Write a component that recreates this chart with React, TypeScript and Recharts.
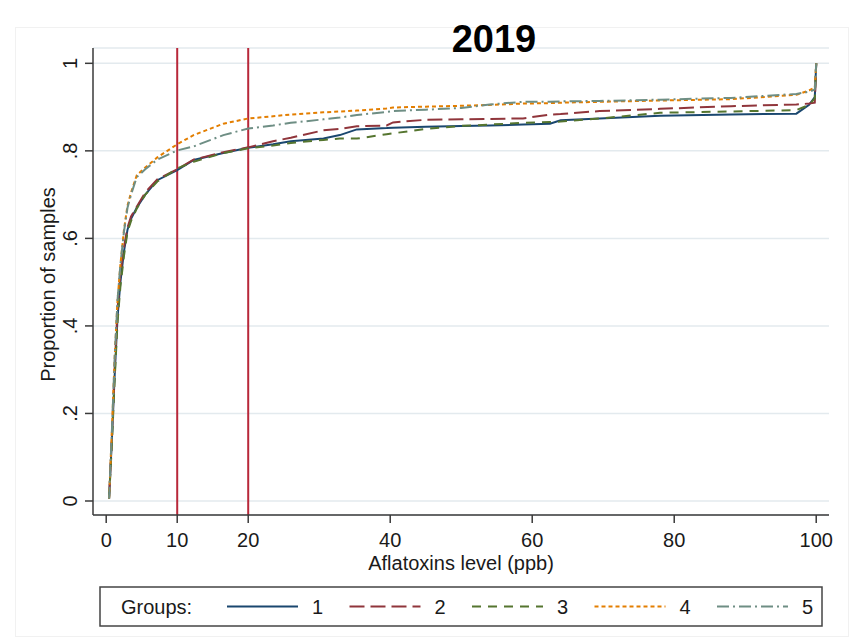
import React from 'react';
import { LineChart, Line, XAxis, YAxis, CartesianGrid, ReferenceLine } from 'recharts';

// Aflatoxin level (ppb) at which each cumulative proportion was read
const AFLATOXIN_LEVELS = [0.4, 0.8, 1.2, 1.6, 2.0, 2.5, 3.0, 3.5, 4.3, 5.5, 7.2, 10, 12.3, 16.5, 20, 23.5, 26, 30.6, 32.9, 35.3, 39.5, 40.4, 45, 50, 54, 58.7, 62.5, 64, 69.5, 78, 88, 97.2, 99, 99.8, 100];

// Cumulative proportion of samples per group
const GROUP_1 = [0.005, 0.14, 0.29, 0.42, 0.5, 0.57, 0.62, 0.645, 0.67, 0.7, 0.733, 0.756, 0.779, 0.795, 0.807, 0.815, 0.822, 0.828, 0.836, 0.849, 0.852, 0.853, 0.855, 0.857, 0.858, 0.86, 0.862, 0.87, 0.874, 0.88, 0.883, 0.885, 0.905, 0.923, 1];
const GROUP_2 = [0.005, 0.15, 0.31, 0.44, 0.52, 0.58, 0.625, 0.65, 0.672, 0.705, 0.735, 0.758, 0.78, 0.797, 0.808, 0.822, 0.83, 0.847, 0.85, 0.856, 0.858, 0.865, 0.871, 0.872, 0.873, 0.874, 0.883, 0.884, 0.891, 0.896, 0.902, 0.906, 0.908, 0.91, 1];
const GROUP_3 = [0.005, 0.13, 0.28, 0.41, 0.49, 0.56, 0.615, 0.64, 0.668, 0.7, 0.73, 0.76, 0.775, 0.795, 0.806, 0.812, 0.818, 0.825, 0.828, 0.828, 0.838, 0.84, 0.85, 0.857, 0.86, 0.864, 0.866, 0.867, 0.874, 0.887, 0.89, 0.893, 0.905, 0.92, 1];
const GROUP_4 = [0.005, 0.16, 0.33, 0.46, 0.54, 0.62, 0.675, 0.705, 0.744, 0.762, 0.785, 0.815, 0.836, 0.862, 0.874, 0.879, 0.883, 0.888, 0.89, 0.892, 0.897, 0.899, 0.901, 0.903, 0.905, 0.908, 0.909, 0.91, 0.912, 0.915, 0.918, 0.928, 0.938, 0.945, 1];
const GROUP_5 = [0.005, 0.16, 0.33, 0.46, 0.54, 0.615, 0.67, 0.7, 0.74, 0.758, 0.78, 0.801, 0.81, 0.836, 0.851, 0.858, 0.864, 0.872, 0.876, 0.882, 0.889, 0.891, 0.894, 0.898, 0.906, 0.912, 0.912, 0.913, 0.914, 0.917, 0.921, 0.93, 0.935, 0.94, 1];

const GROUP_NAMES = ['1', '2', '3', '4', '5'];
const X_TICKS = [0, 10, 20, 40, 60, 80, 100];
const Y_TICKS = [0, 0.2, 0.4, 0.6, 0.8, 1];
const Y_TICK_LABELS = ['0', '.2', '.4', '.6', '.8', '1'];
const THRESHOLDS = [10, 20];

const FONT = '"Liberation Sans", Arial, Helvetica, sans-serif';
const INK = '#1a1a1a';
const AXIS = '#3a3a3a';

const SERIES = [
  { key: 'g1', color: '#1a476f', dash: undefined as string | undefined },
  { key: 'g2', color: '#90353b', dash: '15 6' },
  { key: 'g3', color: '#55752f', dash: '9 7' },
  { key: 'g4', color: '#e37e00', dash: '4 3' },
  { key: 'g5', color: '#6e8e84', dash: '12 4 2 4' },
];

const data = AFLATOXIN_LEVELS.map((x, i) => ({
  x,
  g1: GROUP_1[i],
  g2: GROUP_2[i],
  g3: GROUP_3[i],
  g4: GROUP_4[i],
  g5: GROUP_5[i],
}));

const XTick = (props: any) => {
  const { x, y, payload } = props;
  return (
    <text x={x} y={y} dy={22} textAnchor="middle" fontSize={20} fontFamily={FONT} fill={INK}>
      {payload.value}
    </text>
  );
};

const YTick = (props: any) => {
  const { x, y, payload } = props;
  const idx = Y_TICKS.indexOf(payload.value);
  const label = idx >= 0 ? Y_TICK_LABELS[idx] : String(payload.value);
  const tx = x - 6;
  return (
    <text x={tx} y={y} transform={`rotate(-90, ${tx}, ${y})`} textAnchor="middle" fontSize={20} fontFamily={FONT} fill={INK}>
      {label}
    </text>
  );
};

const YTitle = (props: any) => {
  const vb = props.viewBox || { x: 0, y: 48, width: 93, height: 467 };
  const tx = vb.x + 55;
  const ty = vb.y + vb.height / 2 + 3;
  return (
    <text x={tx} y={ty} transform={`rotate(-90, ${tx}, ${ty})`} textAnchor="middle" fontSize={20} fontFamily={FONT} fill={INK}>
      Proportion of samples
    </text>
  );
};

const XTitle = (props: any) => {
  const vb = props.viewBox || { x: 93, y: 515, width: 736, height: 60 };
  return (
    <text x={vb.x + vb.width / 2} y={vb.y + 55} textAnchor="middle" fontSize={20} fontFamily={FONT} fill={INK}>
      Aflatoxins level (ppb)
    </text>
  );
};

const LegendBox = () => {
  const left = 100;
  const top = 587;
  const width = 722;
  const height = 39;
  const cy = top + height / 2;
  return (
    <svg width={850} height={637} style={{ position: 'absolute', left: 0, top: 0, pointerEvents: 'none' }}>
      <rect x={15.5} y={27.5} width={833} height={609} fill="none" stroke="#f1f1f1" strokeWidth={1} />
      <text x={494} y={52} textAnchor="middle" fontSize={38} fontWeight="bold" fontFamily={FONT} fill="#000">
        2019
      </text>
      <rect x={left} y={top} width={width} height={height} fill="#fff" stroke="#444" strokeWidth={1.5} />
      <text x={121} y={cy + 7} fontSize={20} fontFamily={FONT} fill={INK}>
        Groups:
      </text>
      {SERIES.map((s, i) => {
        const start = 227 + i * 122.5;
        return (
          <g key={s.key}>
            <line x1={start} y1={cy} x2={start + 71} y2={cy} stroke={s.color} strokeWidth={2} strokeDasharray={s.dash} />
            <text x={start + 85} y={cy + 7} fontSize={20} fontFamily={FONT} fill={INK}>
              {GROUP_NAMES[i]}
            </text>
          </g>
        );
      })}
    </svg>
  );
};

export default function App() {
  return (
    <div style={{ position: 'absolute', left: 0, top: 0, width: 850, height: 637, background: '#fff', fontFamily: FONT }}>
      <div style={{ position: 'absolute', left: 0, top: 0 }}>
        <LineChart width={850} height={637} data={data} margin={{ top: 48, right: 21, bottom: 62, left: 0 }}>
          <CartesianGrid horizontal vertical={false} stroke="#e3eaee" strokeWidth={1.5} />
          <XAxis
            dataKey="x"
            type="number"
            domain={[-1.86, 101.8]}
            ticks={X_TICKS}
            allowDataOverflow
            height={60}
            tickSize={8}
            tick={<XTick />}
            tickLine={{ stroke: AXIS, strokeWidth: 1.5 }}
            axisLine={{ stroke: AXIS, strokeWidth: 1.5 }}
            label={<XTitle />}
          />
          <YAxis
            type="number"
            domain={[-0.032, 1.035]}
            ticks={Y_TICKS}
            allowDataOverflow
            width={93}
            tickSize={8}
            tick={<YTick />}
            tickLine={{ stroke: AXIS, strokeWidth: 1.5 }}
            axisLine={{ stroke: AXIS, strokeWidth: 1.5 }}
            label={<YTitle />}
          />
          {THRESHOLDS.map((t) => (
            <ReferenceLine key={t} x={t} stroke="#b8283a" strokeWidth={2} />
          ))}
          {SERIES.map((s) => (
            <Line
              key={s.key}
              type="linear"
              dataKey={s.key}
              stroke={s.color}
              strokeWidth={2}
              strokeDasharray={s.dash}
              dot={false}
              activeDot={false}
              isAnimationActive={false}
            />
          ))}
        </LineChart>
      </div>
      <LegendBox />
    </div>
  );
}
